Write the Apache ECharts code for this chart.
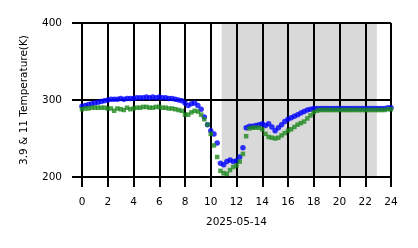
<!DOCTYPE html>
<html><head><meta charset="utf-8">
<script src="https://cdn.jsdelivr.net/npm/echarts@6/dist/echarts.min.js"></script>
<style>html,body{margin:0;padding:0;background:#fff}#c{width:418px;height:248px}</style>
</head><body><div id="c"></div>
<script>
// Hours (15-minute steps)
const hours = [];
for (let i = 0; i <= 96; i++) hours.push(i / 4);

// 3.9 µm temperature (blue)
const blueT = [292,293,294,295,296,297,298,299,300,301,301,301,302,301,302,302,
  302,303,303,303,304,303,304,303,304,303,303,302,302,301,300,299,
  296,293,295,296,293,288,278,268,260,256,244,218,216,220,222,220,
  221,226,238,264,266,266,267,268,269,267,269,265,260,264,268,272,
  275,277,279,281,283,285,287,288,289,289,289,289,289,289,289,289,
  289,289,289,289,289,289,289,289,289,289,289,289,289,289,289,290,290];
// 11 µm temperature (green)
const greenT = [288,289,289,290,290,290,290,290,289,289,286,289,288,287,290,288,
  289,290,290,291,291,290,290,291,291,290,290,289,289,288,287,286,
  281,281,284,286,285,281,275,268,256,241,226,208,205,204,209,213,
  215,220,230,253,263,264,264,264,262,256,252,251,250,251,254,257,
  260,262,265,268,270,272,276,280,284,286,287,287,287,287,287,287,
  287,287,287,287,287,287,287,287,287,287,287,287,287,287,287,288,288];

const shadeRange = [10.85, 22.9];
const xTicks = [0,2,4,6,8,10,12,14,16,18,20,22,24];
const yTicks = [200,300,400];

const chart = echarts.init(document.getElementById('c'), null, {renderer:'canvas'});
const font = 'DejaVu Sans';
const fs = 10.5;
chart.setOption({
  animation:false,
  grid:{left:82,right:27,top:23,bottom:71},
  xAxis:{type:'value',min:0,max:24,interval:2,z:2,
    name:'2025-05-14',nameLocation:'middle',nameGap:40,
    nameTextStyle:{color:'#000',fontSize:fs,fontFamily:font},
    axisLine:{show:true,onZero:false,lineStyle:{color:'#000',width:2}},
    axisTick:{show:true,length:10,lineStyle:{color:'#000',width:2}},
    axisLabel:{color:'#000',fontSize:fs,fontFamily:font,margin:20,
      formatter:v=>xTicks.includes(v)?String(v):''},
    splitLine:{show:true,lineStyle:{color:'#000',width:2}}},
  yAxis:{type:'value',min:200,max:400,interval:100,z:2,
    name:'3.9 & 11 Temperature(K)',nameLocation:'middle',nameGap:52,
    nameTextStyle:{color:'#000',fontSize:fs,fontFamily:font},
    axisLine:{show:true,lineStyle:{color:'#000',width:2}},
    axisTick:{show:true,length:10,lineStyle:{color:'#000',width:2}},
    axisLabel:{color:'#000',fontSize:fs,fontFamily:font,margin:20,
      formatter:v=>yTicks.includes(v)?String(v):''},
    splitLine:{show:true,lineStyle:{color:'#000',width:2}}},
  series:[
    {type:'line',data:[],z:1,silent:true,
      markArea:{silent:true,z:1,itemStyle:{color:'#d9d9d9'},
        data:[[{xAxis:shadeRange[0]},{xAxis:shadeRange[1]}]]}},
    {type:'scatter',name:'3.9',symbol:'circle',symbolSize:5.5,z:3,
      itemStyle:{color:'#0000ff'},
      data:hours.map((h,i)=>[h,blueT[i]])},
    {type:'scatter',name:'11',symbol:'rect',symbolSize:4.5,z:4,
      itemStyle:{color:'#1e8a1e'},
      data:hours.map((h,i)=>[h,greenT[i]])}
  ]
});
</script></body></html>
